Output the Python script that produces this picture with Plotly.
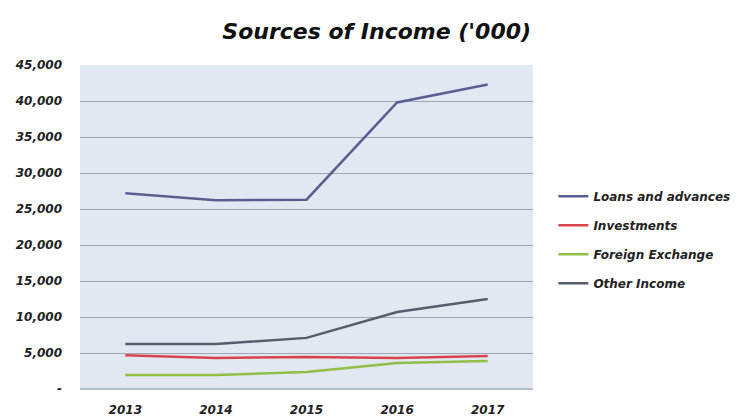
import plotly.graph_objects as go

years = ["2013", "2014", "2015", "2016", "2017"]
loans = [27200, 26200, 26300, 39800, 42300]
investments = [4700, 4300, 4450, 4300, 4600]
foreign_exchange = [1950, 1950, 2350, 3600, 3900]
other_income = [6250, 6250, 7100, 10700, 12500]

series_names = ["Loans and advances", "Investments", "Foreign Exchange", "Other Income"]
series_values = [loans, investments, foreign_exchange, other_income]
series_colors = ["#5a5e92", "#d9444c", "#8fbf45", "#585c6e"]

ytick_vals = [0, 5000, 10000, 15000, 20000, 25000, 30000, 35000, 40000, 45000]
ytick_text = ["-", "5,000", "10,000", "15,000", "20,000", "25,000", "30,000", "35,000", "40,000", "45,000"]

font_family = "'DejaVu Sans', sans-serif"
tick_font = dict(family=font_family, size=12, color="#222222", style="italic", weight="bold")

fig = go.Figure()
for i, (name, vals, col) in enumerate(zip(series_names, series_values, series_colors)):
    fig.add_trace(go.Scatter(
        x=years, y=vals, name=name, mode="lines",
        line=dict(color=col, width=2.5),
        legendgroup=f"g{i}",
    ))

# page has an 8px body margin, so the figure is sized to fit the 741x417 window
fig.update_layout(
    width=733, height=409,
    margin=dict(l=72, r=208, t=57, b=28, autoexpand=False),
    paper_bgcolor="white",
    plot_bgcolor="#e1e8f2",
    title=dict(
        text="<b><i>Sources of Income ('000)</i></b>",
        x=0.503, xanchor="center", y=0.944, yanchor="middle",
        font=dict(family=font_family, size=22, color="#111111"),
    ),
    font=dict(family=font_family, color="#222222"),
    showlegend=True,
    legend=dict(
        x=1.045, xanchor="left", y=0.461, yanchor="middle",
        font=dict(family=font_family, size=12, color="#222222", style="italic", weight="bold"),
        tracegroupgap=10,
        bgcolor="rgba(0,0,0,0)",
        itemwidth=30,
    ),
    xaxis=dict(
        type="category",
        range=[-0.5, 4.5],
        showgrid=False,
        showline=False,
        ticks="",
        ticklen=0,
        automargin=False,
        tickfont=tick_font,
        ticklabelstandoff=12,
    ),
    yaxis=dict(
        range=[0, 45000],
        tickvals=ytick_vals,
        ticktext=ytick_text,
        showgrid=True,
        gridcolor="#9ea7b3",
        gridwidth=1,
        zeroline=True,
        zerolinecolor="#b5bec9",
        showline=False,
        ticks="",
        ticklen=0,
        automargin=False,
        tickfont=tick_font,
        ticklabelstandoff=17,
    ),
)

fig.write_html("out.html")
